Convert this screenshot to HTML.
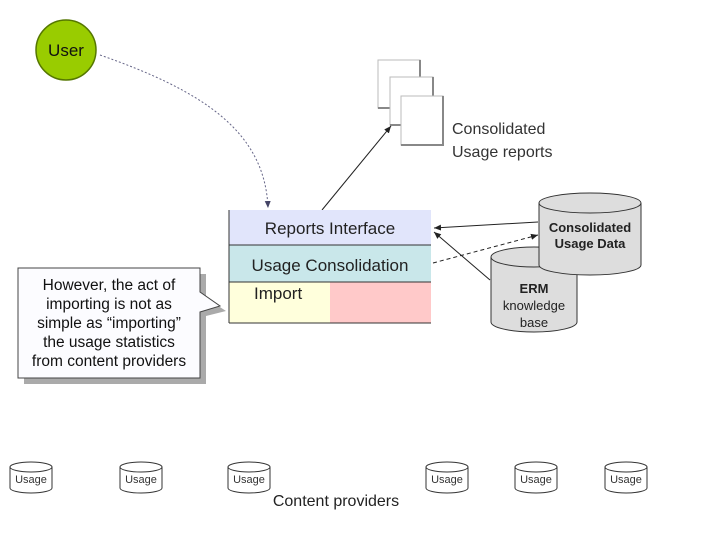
<!DOCTYPE html>
<html><head><style>
body{margin:0;background:#fff;}
svg{display:block;font-family:"Liberation Sans",Arial,sans-serif;}
</style></head><body>
<svg width="720" height="540" viewBox="0 0 720 540" xmlns="http://www.w3.org/2000/svg">
<defs>
<marker id="ah" markerWidth="8" markerHeight="8" refX="7" refY="4" orient="auto" markerUnits="userSpaceOnUse"><path d="M0,1 L7,4 L0,7 z" fill="#222"/></marker>
<marker id="ahb" markerWidth="8" markerHeight="8" refX="7" refY="4" orient="auto" markerUnits="userSpaceOnUse"><path d="M0,1 L7,4 L0,7 z" fill="#446"/></marker>
</defs>
<!-- user -->
<circle cx="66" cy="50" r="30" fill="#99cc00" stroke="#557700" stroke-width="1.5"/>
<text x="66" y="56" font-size="17" text-anchor="middle" fill="#111">User</text>
<path d="M100,55 C200,90 265,130 268,208" fill="none" stroke="#668" stroke-width="1" stroke-dasharray="2,2" marker-end="url(#ahb)"/>
<!-- documents -->
<rect x="378" y="60" width="42" height="48" fill="#fff" stroke="#bbb"/>
<path d="M420,60 V108 H378" fill="none" stroke="#888" stroke-width="2"/>
<rect x="390" y="77" width="43" height="48" fill="#fff" stroke="#bbb"/>
<path d="M433,77 V125 H390" fill="none" stroke="#888" stroke-width="2"/>
<rect x="401" y="96" width="42" height="49" fill="#fff" stroke="#bbb"/>
<path d="M443,96 V145 H401" fill="none" stroke="#888" stroke-width="2"/>
<text font-size="16" fill="#333"><tspan x="452" y="134">Consolidated</tspan><tspan x="452" y="157">Usage reports</tspan></text>
<line x1="322" y1="210" x2="391" y2="126" stroke="#222" stroke-width="1" marker-end="url(#ah)"/>
<!-- stack -->
<rect x="229" y="210" width="202" height="35" fill="#e1e5fb"/>
<rect x="229" y="245" width="202" height="37" fill="#c9e7ea"/>
<rect x="229" y="282" width="101" height="41" fill="#ffffdc"/>
<rect x="330" y="282" width="101" height="41" fill="#ffc9c9"/>
<line x1="229" y1="245" x2="431" y2="245" stroke="#333"/>
<line x1="229" y1="282" x2="431" y2="282" stroke="#333"/>
<line x1="229" y1="323" x2="431" y2="323" stroke="#333"/>
<line x1="229" y1="210" x2="229" y2="323" stroke="#333"/>
<text x="330" y="234" font-size="17" text-anchor="middle" fill="#222">Reports Interface</text>
<text x="330" y="271" font-size="17" text-anchor="middle" fill="#222">Usage Consolidation</text>
<text x="254" y="299" font-size="17" fill="#222">Import</text>
<!-- cylinders -->
<g stroke="#333" stroke-width="1">
<path d="M491,257 V322 A43,10 0 0 0 577,322 V257" fill="#ddd"/>
<ellipse cx="534" cy="257" rx="43" ry="10" fill="#ddd"/>
<path d="M539,203 V265 A51,10 0 0 0 641,265 V203" fill="#ddd"/>
<ellipse cx="590" cy="203" rx="51" ry="10" fill="#ddd"/>
</g>
<text font-size="13" font-weight="bold" text-anchor="middle" fill="#222"><tspan x="590" y="232">Consolidated</tspan><tspan x="590" y="248">Usage Data</tspan></text>
<text font-size="13" text-anchor="middle" fill="#222"><tspan x="534" y="293" font-weight="bold">ERM</tspan><tspan x="534" y="310">knowledge</tspan><tspan x="534" y="327">base</tspan></text>
<line x1="538" y1="222" x2="434" y2="228" stroke="#222" marker-end="url(#ah)"/>
<line x1="490" y1="280" x2="434" y2="232" stroke="#222" marker-end="url(#ah)"/>
<line x1="433" y1="263" x2="538" y2="235" stroke="#222" stroke-dasharray="4,3" marker-end="url(#ah)"/>
<!-- callout -->
<path d="M24,274 H206 V298 L226,311 L206,316 V384 H24 Z" fill="#aaa"/>
<path d="M18,268 H200 V292 L220,306 L200,312 V378 H18 Z" fill="#fcfcff" stroke="#444"/>
<text font-size="15.5" text-anchor="middle" fill="#111"><tspan x="109" y="290">However, the act of</tspan><tspan x="109" y="309">importing is not as</tspan><tspan x="109" y="328">simple as “importing”</tspan><tspan x="109" y="347">the usage statistics</tspan><tspan x="109" y="366">from content providers</tspan></text>
<!-- bottom cylinders -->
<g stroke="#333" stroke-width="1" fill="#fff">
<g transform="translate(10,0)"><path d="M0,467 V488 A21,5 0 0 0 42,488 V467"/><ellipse cx="21" cy="467" rx="21" ry="5"/></g>
<g transform="translate(120,0)"><path d="M0,467 V488 A21,5 0 0 0 42,488 V467"/><ellipse cx="21" cy="467" rx="21" ry="5"/></g>
<g transform="translate(228,0)"><path d="M0,467 V488 A21,5 0 0 0 42,488 V467"/><ellipse cx="21" cy="467" rx="21" ry="5"/></g>
<g transform="translate(426,0)"><path d="M0,467 V488 A21,5 0 0 0 42,488 V467"/><ellipse cx="21" cy="467" rx="21" ry="5"/></g>
<g transform="translate(515,0)"><path d="M0,467 V488 A21,5 0 0 0 42,488 V467"/><ellipse cx="21" cy="467" rx="21" ry="5"/></g>
<g transform="translate(605,0)"><path d="M0,467 V488 A21,5 0 0 0 42,488 V467"/><ellipse cx="21" cy="467" rx="21" ry="5"/></g>
</g>
<g font-size="11" text-anchor="middle" fill="#333">
<text x="31" y="483">Usage</text><text x="141" y="483">Usage</text><text x="249" y="483">Usage</text>
<text x="447" y="483">Usage</text><text x="536" y="483">Usage</text><text x="626" y="483">Usage</text>
</g>
<text x="336" y="506" font-size="16" text-anchor="middle" fill="#222">Content providers</text>
</svg>
</body></html>
